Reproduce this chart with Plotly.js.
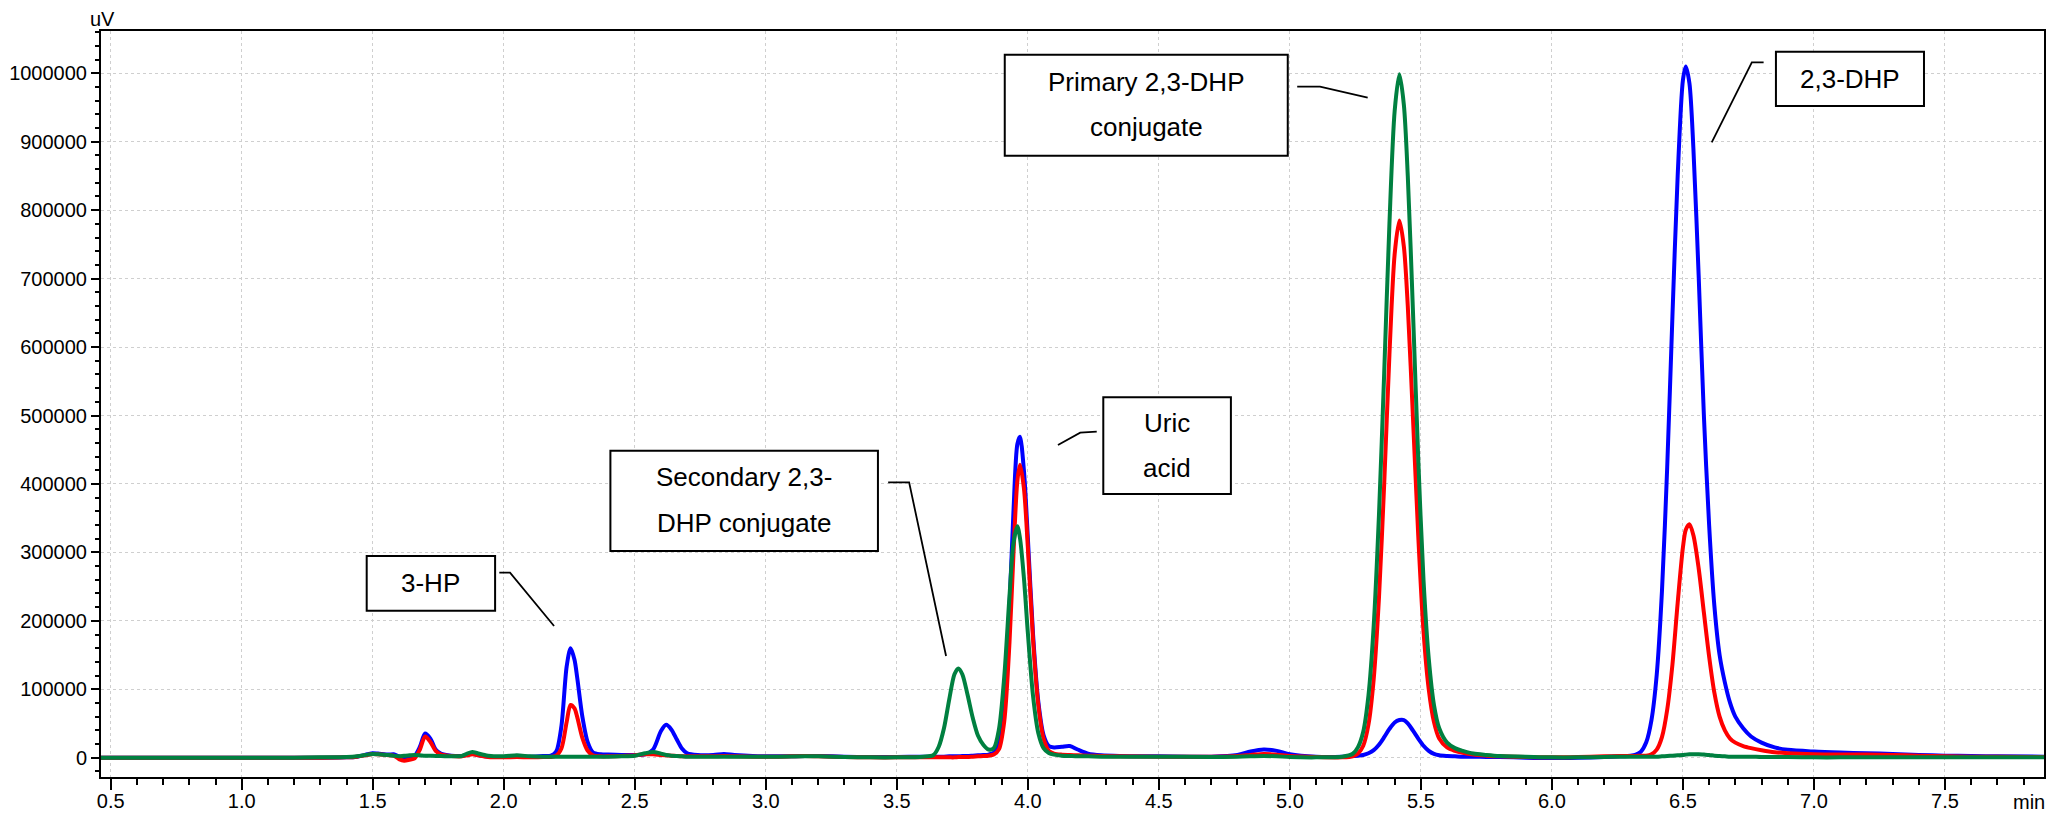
<!DOCTYPE html>
<html>
<head>
<meta charset="utf-8">
<script src="https://cdn.plot.ly/plotly-3.0.1.min.js"></script>
<style>html,body{margin:0;padding:0;background:#fff;}#chart{width:2051px;height:813px;}</style>
</head>
<body>
<div id="chart"></div>
<script>
// Retention time (min)
const time = [0.46,0.60,0.80,1.00,1.20,1.30,1.40,1.44,1.48,1.50,1.52,1.56,1.58,1.60,1.62,1.64,1.66,1.68,1.70,1.72,1.74,1.76,1.80,1.84,1.86,1.88,1.90,1.94,2.00,2.05,2.10,2.15,2.18,2.20,2.22,2.24,2.255,2.27,2.28,2.30,2.32,2.34,2.37,2.40,2.45,2.50,2.54,2.57,2.60,2.62,2.64,2.66,2.68,2.70,2.74,2.80,2.84,2.88,2.95,3.05,3.15,3.20,3.30,3.40,3.50,3.60,3.64,3.66,3.68,3.70,3.72,3.735,3.75,3.77,3.79,3.81,3.83,3.85,3.87,3.89,3.91,3.93,3.945,3.96,3.97,3.985,4.00,4.02,4.04,4.06,4.08,4.10,4.13,4.16,4.19,4.23,4.28,4.35,4.50,4.70,4.80,4.85,4.90,4.95,5.00,5.10,5.20,5.24,5.26,5.28,5.30,5.32,5.34,5.36,5.38,5.40,5.418,5.435,5.45,5.47,5.49,5.51,5.53,5.55,5.57,5.60,5.63,5.66,5.70,5.75,5.80,5.90,6.00,6.10,6.20,6.26,6.30,6.32,6.34,6.36,6.38,6.40,6.42,6.44,6.46,6.48,6.50,6.511,6.525,6.54,6.56,6.58,6.60,6.62,6.64,6.66,6.68,6.70,6.73,6.76,6.80,6.85,6.90,7.00,7.10,7.20,7.30,7.40,7.50,7.60,7.70,7.88];

// Signal (uV), blue trace
const blueSignal = [0,0,0,0,0,0,500,1500,5000,6500,6000,4500,5000,2000,0,1000,3000,16000,35500,28000,12000,6000,3000,2500,4000,6000,4000,1500,1000,2000,1500,2500,3000,9000,46000,133000,160000,143000,118000,60000,23000,8000,5000,4500,4000,4000,5000,12000,39000,48000,41000,27000,13500,6500,4000,4000,5500,4000,2500,2000,2500,2500,1500,1000,1000,1500,1500,1500,1500,2000,2000,2000,2500,2500,3000,3500,4000,4500,7000,21000,81000,221000,358000,458000,469000,420000,322000,180000,82000,33000,17000,15000,16000,17000,12000,6000,3500,2500,2000,1500,4000,9000,12000,10000,5000,1500,1500,2500,3000,4000,6500,11000,19000,30000,42000,51500,55000,55000,50000,39500,28000,17500,10000,5500,3500,2500,2000,1500,1500,1000,1000,0,-500,0,1000,2000,3000,4500,9000,22500,55000,121000,243000,424000,645000,850000,990000,1010000,985000,890000,705000,500000,340000,222000,150000,110000,80000,60000,43000,31000,22000,15000,11500,9000,7500,6500,5500,4000,3000,2500,2000,1500];

// Signal (uV), red trace
const redSignal = [0,0,0,0,0,0,500,1500,4000,5500,5000,3500,3000,-2000,-4500,-3000,-1000,12000,31000,23000,10000,5000,2500,2000,3500,5000,3500,1000,500,1000,500,1000,1000,3000,13500,52000,77000,72000,60000,29000,10500,3500,2000,2000,2500,3500,5000,5000,4000,3500,3000,2500,2000,2000,2000,2000,2500,2000,1500,1500,2500,2000,1000,500,500,500,500,500,500,500,500,1000,1000,1000,1500,2000,2500,3000,4500,12500,53000,168000,296000,404000,428000,394000,308000,172000,77000,28000,10000,6000,4500,4000,3500,3000,2500,2000,1500,1500,2500,4000,5500,4500,2500,1000,500,2000,6000,17500,48500,115000,233000,400000,589000,736000,785000,747000,660000,495000,324000,185000,100000,52000,28000,15000,10000,7000,4500,3000,2000,1000,500,1000,2000,2500,2500,2500,3000,3000,5000,11700,30000,70000,136000,226000,307000,333000,341000,325000,277000,212000,148000,95000,60000,40000,28000,22000,17000,14000,11000,8000,6500,5000,4500,4500,4000,3000,2000,1500,1500,1000];

// Signal (uV), green trace
const greenSignal = [0,0,0,0,0,500,1000,2000,4500,5500,5000,4000,3000,2000,3000,3500,4000,3500,3000,3000,2500,2500,2000,2500,6000,8500,6500,3000,2000,3500,2000,1500,1500,1500,1500,1500,1500,1500,1500,1500,1500,1500,1500,1500,2000,3000,6500,8500,6000,4000,3000,2500,2000,1500,1500,1500,1500,1500,1500,1500,2000,2000,1000,500,500,1500,4000,16000,43000,85000,122000,130500,122000,92000,58000,32000,19000,12000,14000,42000,118000,236000,313000,338000,321000,263000,183000,90000,36000,14000,7000,4500,3000,2500,2000,2000,1500,1500,1500,1000,1500,2000,2500,2000,1000,500,1500,5800,15500,38000,91000,193000,354000,562000,780000,945000,998500,954000,850000,650000,436000,260000,145000,77000,43000,22000,14000,10000,6000,4000,2500,1500,500,500,1000,1500,1500,1500,1500,1500,1500,1500,2000,2500,3000,3500,4000,4500,5000,5000,5000,4500,4000,3000,2500,2000,1500,1500,1500,1500,1000,1000,1000,500,500,500,500,500,500,500,500,500];

const traceNames = ['blue', 'red', 'green'];
const traceColors = ['#0000FF', '#FF0000', '#008040'];

// Peak labels: text lines, box corners [x0, x1, y0, y1], line y-positions, leader path points
const labelLines = [['3-HP'], ['Secondary 2,3-', 'DHP conjugate'], ['Uric', 'acid'], ['Primary 2,3-DHP', 'conjugate'], ['2,3-DHP']];
const labelBoxX = [[1.477, 1.967], [2.407, 3.428], [4.288, 4.775], [3.912, 4.992], [6.855, 7.420]];
const labelBoxY = [[214800, 294700], [302000, 448600], [385300, 526600], [879600, 1027200], [952200, 1031500]];
const labelLineY = [[254800], [410600, 342500], [488600, 422800], [987700, 921400], [991900]];
const leaderX = [[1.983, 2.024, 2.192], [3.467, 3.547, 3.688], [4.263, 4.200, 4.115], [5.028, 5.115, 5.297], [6.808, 6.763, 6.610]];
const leaderY = [[270300, 270300, 192400], [402400, 402400, 148600], [476300, 474900, 456900], [980400, 980400, 964300], [1016000, 1016000, 899200]];

const FONT = '"Liberation Sans", Arial, sans-serif';
const signals = [blueSignal, redSignal, greenSignal];

const data = signals.map((s, i) => ({
  type: 'scatter', mode: 'lines', name: traceNames[i],
  x: time, y: s,
  line: {color: traceColors[i], width: 4, shape: 'spline', smoothing: 0.8},
  hoverinfo: 'skip'
}));

const shapes = [];
const annotations = [];
labelLines.forEach((lines, i) => {
  shapes.push({type: 'rect', xref: 'x', yref: 'y', layer: 'above',
    x0: labelBoxX[i][0], x1: labelBoxX[i][1], y0: labelBoxY[i][0], y1: labelBoxY[i][1],
    line: {color: '#000', width: 2}, fillcolor: '#fff'});
  const cx = (labelBoxX[i][0] + labelBoxX[i][1]) / 2;
  lines.forEach((t, j) => annotations.push({xref: 'x', yref: 'y', x: cx, y: labelLineY[i][j],
    text: t, showarrow: false, xanchor: 'center', yanchor: 'middle',
    font: {family: FONT, size: 26, color: '#000'}}));
  const p = leaderX[i].map((x, k) => (k ? 'L' : 'M') + x + ',' + leaderY[i][k]).join(' ');
  shapes.push({type: 'path', xref: 'x', yref: 'y', layer: 'above', path: p, line: {color: '#000', width: 1.8}});
});

annotations.push({xref: 'paper', yref: 'paper', x: 0.0008, y: 1.016, text: 'uV', showarrow: false,
  xanchor: 'center', yanchor: 'middle', font: {family: FONT, size: 20, color: '#000'}});
annotations.push({xref: 'paper', yref: 'paper', x: 1.0015, y: -0.033, text: 'min', showarrow: false,
  xanchor: 'right', yanchor: 'middle', font: {family: FONT, size: 20, color: '#000'}});

const axisCommon = {
  showline: true, linecolor: '#000', linewidth: 2, mirror: true,
  ticks: 'outside', tickcolor: '#000', tickwidth: 2,
  showgrid: true, gridcolor: '#cfcfcf', gridwidth: 1, griddash: 'dot',
  zeroline: false, tickfont: {family: FONT, size: 20, color: '#000'}
};

const layout = {
  width: 2051, height: 813,
  margin: {l: 101, r: 7, t: 31, b: 36},
  paper_bgcolor: '#fff', plot_bgcolor: '#fff',
  showlegend: false,
  xaxis: Object.assign({}, axisCommon, {
    range: [0.463, 7.878], tick0: 0.5, dtick: 0.5, tickformat: '.1f', ticklen: 11,
    ticklabelstandoff: -6,
    minor: {dtick: 0.1, tick0: 0.5, ticks: 'outside', ticklen: 6, tickcolor: '#000', tickwidth: 2, showgrid: false}
  }),
  yaxis: Object.assign({}, axisCommon, {
    range: [-28200, 1061800], tick0: 0, dtick: 100000, tickformat: 'd', ticklen: 8,
    minor: {dtick: 20000, tick0: 0, ticks: 'outside', ticklen: 4, tickcolor: '#000', tickwidth: 2, showgrid: false}
  }),
  shapes: shapes,
  annotations: annotations
};

Plotly.newPlot('chart', data, layout, {staticPlot: true, displayModeBar: false});
</script>
</body>
</html>
